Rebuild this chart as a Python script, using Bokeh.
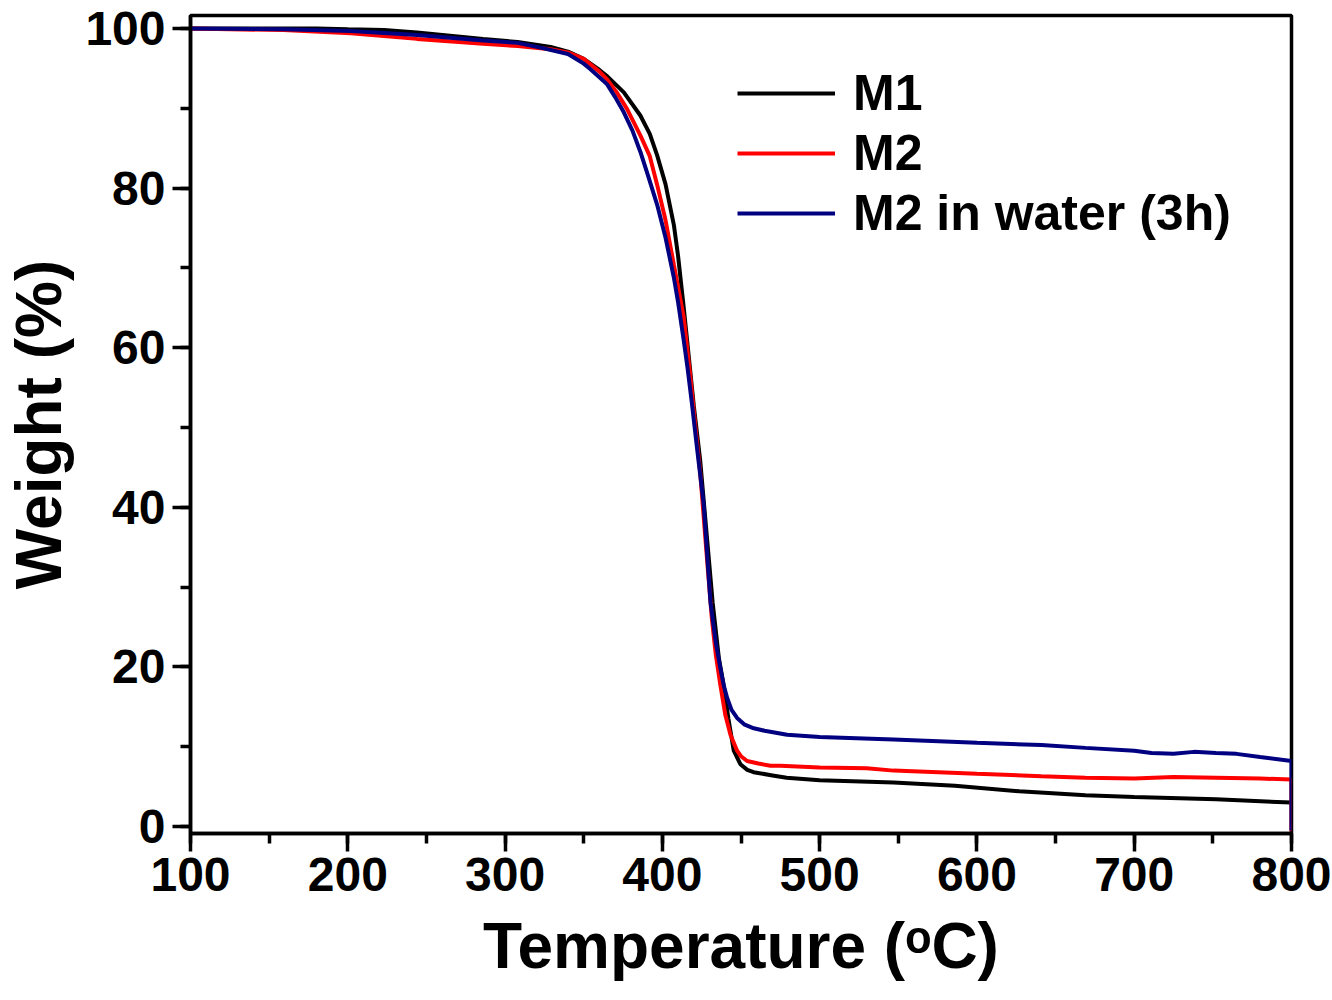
from bokeh.plotting import figure
from bokeh.models import Range1d, SingleIntervalTicker, Legend, LegendItem
from bokeh.embed import file_html
from bokeh.resources import INLINE

# ---- data ----
m1_temp = [100, 150, 180, 200, 223, 244, 265, 286, 308, 329, 340, 350, 360, 365, 375.5,
           386, 392, 396.7, 402, 407.3, 410, 413.6, 417, 420, 424, 428, 432, 436, 439,
           442, 445.4, 449.6, 454, 458, 470, 479, 500, 547, 586, 627, 669, 700, 752, 800]
m1_weight = [100.0, 100.0, 100.0, 99.9, 99.8, 99.5, 99.1, 98.7, 98.3, 97.7, 97.1, 96.2, 94.8, 94.0, 92.0,
             89.1, 86.8, 84.1, 80.5, 75.4, 71.5, 65.0, 58.5, 52.7, 46.0, 37.0, 28.0, 21.0, 17.7,
             13.5, 9.5, 7.8, 7.1, 6.8, 6.4, 6.1, 5.8, 5.5, 5.1, 4.4, 3.9, 3.7, 3.4, 3.0]

m2_temp = [100, 159, 202, 244, 286, 308, 329, 340, 350, 360, 365, 371, 377.6, 386, 392,
           396.7, 402, 407.3, 413.6, 418, 420, 424, 428, 431.5, 434, 436.9, 440, 443.3,
           447.5, 450, 453.9, 461, 468.7, 475, 500, 530, 547, 600, 641, 669, 700, 725,
           752, 780, 800, 800]
m2_weight = [100.0, 99.8, 99.4, 98.7, 98.1, 97.8, 97.4, 97.0, 96.2, 94.6, 93.6, 92.0, 89.9, 86.6, 84.0,
             80.4, 76.0, 70.4, 63.8, 56.0, 52.0, 44.5, 34.5, 26.0, 21.5, 17.7, 14.0, 11.5,
             9.5, 8.8, 8.2, 7.9, 7.6, 7.6, 7.4, 7.3, 7.0, 6.6, 6.3, 6.1, 6.0, 6.2,
             6.1, 6.0, 5.9, -0.6]

m2w_temp = [100, 159, 202, 244, 286, 308, 322.5, 340, 350, 354.3, 360, 364.9, 370, 375.5,
            381, 386.1, 391, 396.7, 402, 407.3, 410, 413.6, 416, 418.8, 422, 426.2, 428.5,
            430.6, 434, 436.9, 439, 441.2, 444, 447.5, 452, 458.1, 465, 479.3, 500, 547,
            600, 641, 669, 700, 711, 725, 738, 752, 765, 780, 800, 800]
m2w_weight = [100.0, 99.9, 99.7, 99.2, 98.5, 98.2, 97.6, 96.8, 95.6, 94.9, 93.9, 93.0, 91.4, 89.5,
              87.2, 84.5, 81.5, 77.9, 73.8, 68.8, 65.7, 60.9, 57.5, 53.0, 47.5, 40.5, 34.0,
              28.1, 23.0, 19.8, 17.7, 16.1, 14.6, 13.6, 12.8, 12.3, 12.0, 11.5, 11.2, 10.9,
              10.5, 10.2, 9.85, 9.5, 9.2, 9.1, 9.35, 9.2, 9.1, 8.7, 8.2, -0.5]

series_names = ["M1", "M2", "M2 in water (3h)"]
series_colors = ["#000000", "#ff0000", "#000080"]

x_label = "Temperature (\u1d52C)"
y_label = "Weight (%)"

FONT = "Liberation Sans"

p = figure(frame_width=1101, frame_height=818,
           x_range=Range1d(100, 800), y_range=Range1d(-0.88, 101.63),
           output_backend="svg", toolbar_location=None,
           min_border_left=190, min_border_right=41, min_border_top=15, min_border_bottom=10)

p.background_fill_color = "white"
p.border_fill_color = "white"
p.grid.visible = False
p.outline_line_color = "black"
p.outline_line_width = 3.5

p.xaxis.ticker = SingleIntervalTicker(interval=100, num_minor_ticks=2)
p.yaxis.ticker = SingleIntervalTicker(interval=20, num_minor_ticks=2)

for ax in (p.xaxis, p.yaxis):
    ax.axis_line_width = 3.5
    ax.axis_line_color = "black"
    ax.major_tick_line_width = 3.5
    ax.minor_tick_line_width = 3.5
    ax.major_tick_in = 0
    ax.major_tick_out = 18
    ax.minor_tick_in = 0
    ax.minor_tick_out = 10
    ax.major_label_text_font = FONT
    ax.major_label_text_font_style = "bold"
    ax.major_label_text_font_size = "48px"
    ax.major_label_text_color = "black"
    ax.axis_label_text_font = FONT
    ax.axis_label_text_font_style = "bold"
    ax.axis_label_text_font_size = "64px"
    ax.axis_label_text_color = "black"

p.xaxis.axis_label = x_label
p.yaxis.axis_label = y_label
p.xaxis.major_label_standoff = 6
p.xaxis.axis_label_standoff = 16
p.yaxis.major_label_standoff = 7
p.yaxis.axis_label_standoff = 7

r1 = p.line(m1_temp, m1_weight, line_color=series_colors[0], line_width=4)
r2 = p.line(m2_temp, m2_weight, line_color=series_colors[1], line_width=4)
r3 = p.line(m2w_temp, m2w_weight, line_color=series_colors[2], line_width=4)

legend = Legend(items=[LegendItem(label=series_names[0], renderers=[r1]),
                       LegendItem(label=series_names[1], renderers=[r2]),
                       LegendItem(label=series_names[2], renderers=[r3])],
                location=(547, 591))
legend.border_line_color = None
legend.background_fill_alpha = 0
legend.padding = 0
legend.margin = 0
legend.spacing = 2
legend.glyph_width = 98
legend.glyph_height = 56
legend.label_height = 56
legend.label_standoff = 18
legend.label_text_font = FONT
legend.label_text_font_style = "bold"
legend.label_text_font_size = "50px"
legend.label_text_color = "black"
p.add_layout(legend)

open("out.html", "w").write(file_html(p, INLINE))
